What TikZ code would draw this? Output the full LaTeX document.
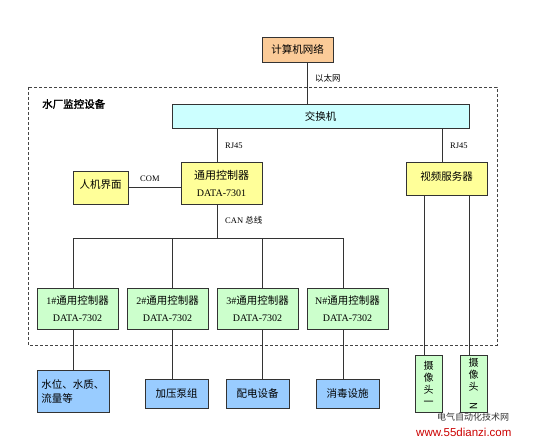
\documentclass[tikz,border=0pt]{standalone}
\usepackage{fontspec}
\usepackage{graphicx}
\setmainfont{Liberation Serif}
\newfontfamily\cjk[AutoFakeBold=2]{Noto Sans CJK SC}
\newfontfamily\wmfont{Liberation Sans}
\usetikzlibrary{calc}
\definecolor{LineGray}{HTML}{333333}
\definecolor{FrameGray}{HTML}{444444}
\definecolor{NetOrange}{HTML}{FBCB98}
\definecolor{SwitchCyan}{HTML}{CCFFFF}
\definecolor{PanelYellow}{HTML}{FFFF99}
\definecolor{CtrlGreen}{HTML}{CCFFCC}
\definecolor{DevBlue}{HTML}{99CCFF}
\definecolor{MarkRed}{HTML}{CC0000}
\definecolor{MarkGray}{HTML}{333333}
\newcommand{\subctrl}[3]{\node[box,fill=CtrlGreen,minimum width=81pt,minimum height=41pt] (#1) at (#2,308.5) {#3\#{\cjk\fontsize{10.5}{17}\selectfont 通用控制器}\\DATA-7302};}

\begin{document}
\begin{tikzpicture}[x=1pt,y=-1pt,
  box/.style={draw=LineGray,line width=0.8pt,align=center,inner sep=2pt,font=\fontsize{10}{17}\selectfont},
  zh/.style={font=\cjk\fontsize{10.5}{14}\selectfont},
  link/.style={draw=LineGray,line width=0.8pt},
  tag/.style={anchor=west,inner sep=0pt,font=\fontsize{8.5}{10}\selectfont}]
  \fill[white] (0,0) rectangle (560,444);
  \useasboundingbox (0,0) rectangle (560,444);
  % plant frame
  \draw[FrameGray,line width=0.7pt,dash pattern=on 3pt off 2pt] (28,87) rectangle (497,345);
  \node[anchor=west,inner sep=0pt,font=\cjk\bfseries\fontsize{10.5}{12}\selectfont] (site) at (42,104) {水厂监控设备};
  % top level
  \node[box,zh,fill=NetOrange,minimum width=71pt,minimum height=25pt] (net) at (297.5,49.5) {计算机网络};
  \node[box,zh,fill=SwitchCyan,minimum width=297pt,minimum height=24pt] (sw) at (320.5,116) {交换机};
  \node[box,fill=PanelYellow,minimum width=81pt,minimum height=42pt] (main) at (221.5,183) {{\cjk\fontsize{11}{17}\selectfont 通用控制器}\\DATA-7301};
  \node[box,zh,fill=PanelYellow,minimum width=55pt,minimum height=33pt] (hmi) at (100.5,187.5) {\raisebox{6pt}{人机界面}};
  \node[box,zh,fill=PanelYellow,minimum width=81pt,minimum height=33pt] (video) at (446.5,178.5) {\raisebox{4pt}{视频服务器}};
  % field controllers
  \subctrl{c1}{77.5}{1}
  \subctrl{c2}{167.5}{2}
  \subctrl{c3}{257.5}{3}
  \subctrl{cN}{347.5}{N}
  % devices
  \node[box,zh,fill=DevBlue,minimum width=72pt,minimum height=42pt,align=left] (water) at (73,391) {水位、水质、\\流量等};
  \node[box,zh,fill=DevBlue,minimum width=63pt,minimum height=29pt] (pump) at (176.5,393.5) {加压泵组};
  \node[box,zh,fill=DevBlue,minimum width=63pt,minimum height=29pt] (power) at (257.5,393.5) {配电设备};
  \node[box,zh,fill=DevBlue,minimum width=63pt,minimum height=29pt] (disinf) at (347.5,393.5) {消毒设施};
  \node[box,fill=CtrlGreen,minimum width=27pt,minimum height=57pt,font=\cjk\fontsize{10}{12}\selectfont] (cam1) at (428.5,383.5) {摄\\像\\头\\一};
  \node[box,fill=CtrlGreen,minimum width=27pt,minimum height=57pt,font=\cjk\fontsize{10}{12}\selectfont] (cam2) at (473.5,383.5) {摄\\像\\头\\\rotatebox{-90}{N}};
  % links
  \draw[link] ([xshift=9.5pt]net.south) -- ([xshift=9.5pt]net.south |- sw.north);
  \draw[link] ([xshift=-4.5pt]main.north |- sw.south) -- ([xshift=-4.5pt]main.north);
  \draw[link] ([xshift=-4.5pt]video.north |- sw.south) -- ([xshift=-4.5pt]video.north);
  \draw[link] (hmi.east) -- (hmi.east -| main.west);
  \coordinate (bus) at (217,238);
  \draw[link] ([xshift=-4.5pt]main.south) -- (bus);
  \draw[link] ([xshift=-4.5pt]c1.north |- bus) -- ([xshift=-4.5pt]cN.north |- bus);
  \foreach \n/\dx in {c1/-4.5,c2/4.5,c3/4.5,cN/-4.5}
    \draw[link] ([xshift=\dx pt]\n.north |- bus) -- ([xshift=\dx pt]\n.north);
  \foreach \n/\m/\dx in {c1/water/-4.5,c2/pump/4.5,c3/power/4.5,cN/disinf/-4.5}
    \draw[link] ([xshift=\dx pt]\n.south) -- ([xshift=\dx pt]\n.south |- \m.north);
  \foreach \m in {cam1,cam2}
    \draw[link] ([xshift=-4.5pt]\m.north |- video.south) -- ([xshift=-4.5pt]\m.north);
  % link labels
  \node[tag,font=\cjk\fontsize{8.5}{10}\selectfont] (eth) at (315,78) {以太网};
  \node[tag] (rjA) at (225,146) {RJ45};
  \node[tag] (rjB) at (450,146) {RJ45};
  \node[tag] (com) at (140,179) {COM};
  \node[tag] (can) at (225,220) {CAN {\cjk 总线}};
  % watermark
  \node[anchor=west,inner sep=0pt,text=MarkGray,font=\cjk\fontsize{9}{10}\selectfont] (wmname) at (437,417) {电气自动化技术网};
  \node[anchor=west,inner sep=0pt,text=MarkRed,font=\wmfont\fontsize{11.5}{12}\selectfont] (wmurl) at (416,432) {www.55dianzi.com};
\end{tikzpicture}
\end{document}
